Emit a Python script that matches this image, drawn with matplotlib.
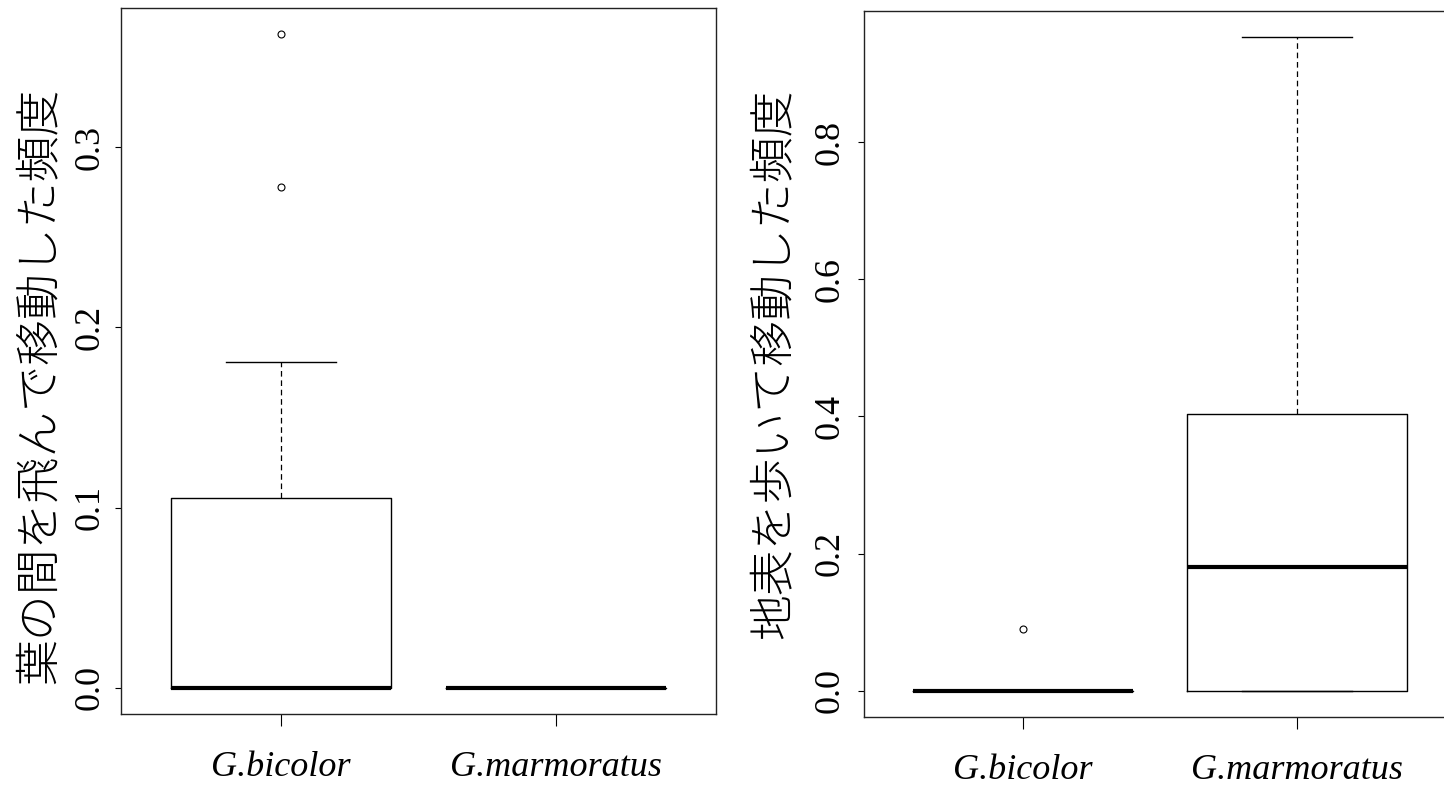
import matplotlib
matplotlib.use('Agg')
import matplotlib.pyplot as plt

species = ['G.bicolor', 'G.marmoratus']

# Left panel: frequency of moving by flying between leaves
fly_label = '葉の間を飛んで移動した頻度'
fly_q1 = [0.0, 0.0]
fly_med = [0.0, 0.0]
fly_q3 = [0.1056, 0.0]
fly_whislo = [0.0, 0.0]
fly_whishi = [0.1806, 0.0]
fly_outliers = [[0.278, 0.3628], []]
fly_ticks = [0.0, 0.1, 0.2, 0.3]

# Right panel: frequency of moving by walking on the ground
walk_label = '地表を歩いて移動した頻度'
walk_q1 = [0.0, 0.0]
walk_med = [0.0, 0.181]
walk_q3 = [0.0, 0.404]
walk_whislo = [0.0, 0.0]
walk_whishi = [0.0, 0.953]
walk_outliers = [[0.0905], []]
walk_ticks = [0.0, 0.2, 0.4, 0.6, 0.8]

W, H = 1444, 785
fig = plt.figure(figsize=(W / 100, H / 100), dpi=100)

SERIF = ['Liberation Serif', 'DejaVu Serif']
CJK = ['Noto Sans CJK JP', 'DejaVu Sans']


def px_axes(l, t, r, b):
    return fig.add_axes([l / W, 1 - b / H, (r - l) / W, (b - t) / H])


def draw(ax, q1, med, q3, wlo, whi, outl, ticks, ypad):
    stats = []
    for i, name in enumerate(species):
        stats.append(dict(label=name, q1=q1[i], med=med[i], q3=q3[i],
                          whislo=wlo[i], whishi=whi[i], fliers=outl[i]))
    ax.bxp(stats, positions=[1, 2], widths=0.8, capwidths=0.4,
           boxprops=dict(color='black', lw=1.0),
           medianprops=dict(color='black', lw=3.0, solid_capstyle='butt'),
           whiskerprops=dict(color='black', lw=0.9, linestyle=(0, (4.5, 3))),
           capprops=dict(color='black', lw=1.0),
           flierprops=dict(marker='o', markerfacecolor='none',
                           markeredgecolor='black', markersize=5,
                           markeredgewidth=0.8))
    allv = wlo + whi + [v for o in outl for v in o]
    lo, hi = min(allv), max(allv)
    ext = (hi - lo) * 0.04
    ax.set_ylim(lo - ext, hi + ext)
    ax.set_xlim(0.42, 2.58)
    ax.set_yticks(ticks)
    ax.set_yticklabels([f'{t:.1f}' for t in ticks], rotation=90,
                       va='center', family=SERIF, fontsize=26)
    ax.set_xticks([1, 2])
    ax.set_xticklabels(species, family=SERIF, style='italic', fontsize=26)
    ax.tick_params(axis='y', length=4.5, width=0.8, pad=ypad)
    ax.tick_params(axis='x', length=8.8, width=0.8, pad=18)
    for s in ax.spines.values():
        s.set_linewidth(1.0)
        s.set_color('#222222')


ax1 = px_axes(121, 8, 716, 714)
draw(ax1, fly_q1, fly_med, fly_q3, fly_whislo, fly_whishi, fly_outliers,
     fly_ticks, 6)
fig.text(40 / W, 1 - 386 / H, fly_label, rotation=90, ha='center',
         va='center', family=CJK, fontsize=33, fontweight='light')

ax2 = px_axes(864, 11, 1456, 717)
draw(ax2, walk_q1, walk_med, walk_q3, walk_whislo, walk_whishi,
     walk_outliers, walk_ticks, 8)
fig.text(775 / W, 1 - 364 / H, walk_label, rotation=90, ha='center',
         va='center', family=CJK, fontsize=33, fontweight='light')

fig.savefig('out.png', dpi=100, facecolor='white')
